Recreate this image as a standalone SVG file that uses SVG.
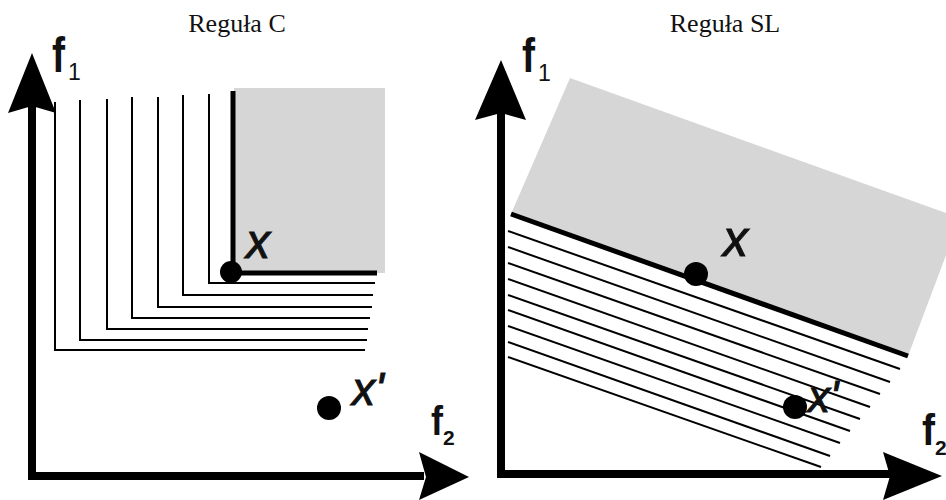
<svg xmlns="http://www.w3.org/2000/svg" width="946" height="500" viewBox="0 0 946 500">
<style>
.title{font-family:"Liberation Serif","Times New Roman",serif;font-size:26px;fill:#111;text-anchor:middle}
.f{font-family:"Liberation Sans",Arial,sans-serif;font-weight:bold;fill:#111}
.sub{font-family:"Liberation Sans",Arial,sans-serif;fill:#111}
.var{font-family:"Liberation Sans",Arial,sans-serif;font-style:italic;fill:#111;stroke:#111;stroke-width:1}
.axis{fill:none;stroke:#000;stroke-width:8;stroke-linejoin:miter}
.head{fill:#000}
.thin{fill:none;stroke:#000;stroke-width:2}
.thick{fill:none;stroke:#000;stroke-width:5}
.gray{fill:#d6d6d6}
.pt{fill:#000}
</style>
<rect width="946" height="500" fill="#fff"/>
<g id="panel-left">
  <text class="title" x="237" y="32">Reguła C</text>
  <rect id="region-c" class="gray" x="234" y="88" width="151" height="185"/>
  <g id="hatch-c">
    <polyline class="thin" points="55,102 55,350 365,350"/>
    <polyline class="thin" points="80,100 80,340 367,340"/>
    <polyline class="thin" points="107,99 107,329 368,329"/>
    <polyline class="thin" points="132,97 132,318 370,318"/>
    <polyline class="thin" points="158,97 158,307 372,307"/>
    <polyline class="thin" points="183,95 183,295 373,295"/>
    <polyline class="thin" points="209,94 209,283 375,283"/>
    <polyline class="thick" points="233,91 233,273 377,273"/>
  </g>
  <g id="axes-c">
    <path class="axis" d="M32,106 V476 H424"/>
    <path class="head" d="M32,53 L56,113 L32,106 L8,113 Z"/>
    <path class="head" d="M469,477 L419,452 L426,477 L419,500 Z"/>
    <text class="f" x="52" y="72" font-size="50" textLength="13" lengthAdjust="spacingAndGlyphs">f</text>
    <text class="sub" x="68" y="80" font-size="23">1</text>
    <text class="f" x="431" y="435" font-size="40" textLength="12" lengthAdjust="spacingAndGlyphs">f</text>
    <text class="sub" x="443" y="445" font-size="21" font-weight="bold">2</text>
  </g>
  <g id="point-x-c">
    <circle class="pt" cx="231" cy="272" r="11"/>
    <text class="var" x="246" y="258" font-size="48">x</text>
  </g>
  <g id="point-xp-c">
    <circle class="pt" cx="329" cy="408" r="12"/>
    <text class="var" x="352" y="405" font-size="46">x'</text>
  </g>
</g>
<g id="panel-right">
  <text class="title" x="725" y="32">Reguła SL</text>
  <polygon id="region-sl" class="gray" points="511,214 570,78 960,218 908,356"/>
  <g id="hatch-sl">
    <line class="thin" x1="508" y1="231" x2="900" y2="369"/>
    <line class="thin" x1="508" y1="247" x2="890" y2="382"/>
    <line class="thin" x1="508" y1="263" x2="880" y2="394"/>
    <line class="thin" x1="508" y1="279" x2="870" y2="407"/>
    <line class="thin" x1="508" y1="295" x2="860" y2="419"/>
    <line class="thin" x1="508" y1="310" x2="850" y2="431"/>
    <line class="thin" x1="508" y1="326" x2="840" y2="443"/>
    <line class="thin" x1="508" y1="342" x2="830" y2="456"/>
    <line class="thin" x1="508" y1="357" x2="821" y2="467"/>
    <line class="thick" x1="511" y1="214" x2="908" y2="356"/>
  </g>
  <g id="axes-sl">
    <path class="axis" d="M501,113 V474 H890"/>
    <path class="head" d="M501,60 L526,120 L501,113 L475,120 Z"/>
    <path class="head" d="M942,476 L883,452 L890,476 L883,500 Z"/>
    <text class="f" x="522" y="72" font-size="48" textLength="13" lengthAdjust="spacingAndGlyphs">f</text>
    <text class="sub" x="538" y="81" font-size="23">1</text>
    <text class="f" x="922" y="445" font-size="44" textLength="13" lengthAdjust="spacingAndGlyphs">f</text>
    <text class="sub" x="935" y="455" font-size="21" font-weight="bold">2</text>
  </g>
  <g id="point-x-sl">
    <circle class="pt" cx="696" cy="274" r="12"/>
    <text class="var" x="723" y="256" font-size="50">x</text>
  </g>
  <g id="point-xp-sl">
    <circle class="pt" cx="795" cy="407" r="12"/>
    <text class="var" x="808" y="412" font-size="44">x'</text>
  </g>
</g>
</svg>
